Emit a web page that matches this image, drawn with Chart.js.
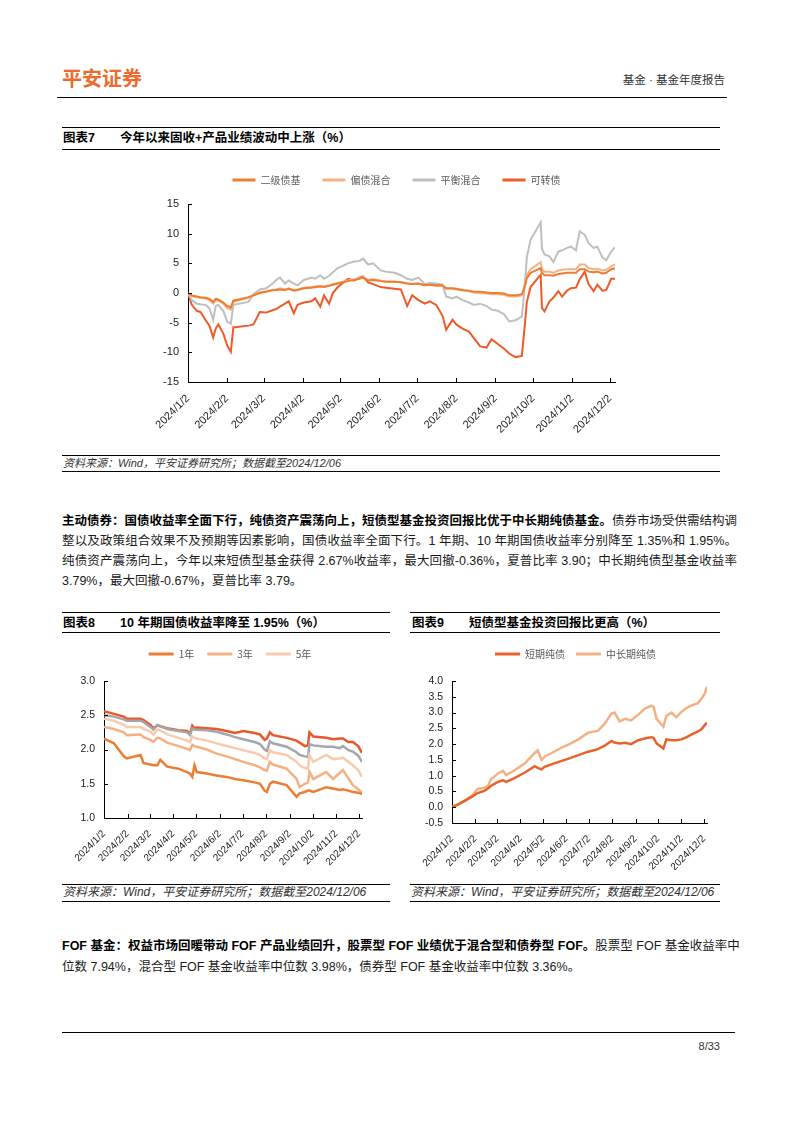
<!DOCTYPE html>
<html lang="zh-CN">
<head>
<meta charset="utf-8">
<title>基金·基金年度报告</title>
<script src="https://cdn.jsdelivr.net/npm/chart.js@4.4.1/dist/chart.umd.min.js"></script>
<style>
  html, body { margin: 0; padding: 0; background: #fff; }
  body { width: 794px; height: 1123px; position: relative; overflow: hidden;
         font-family: "Liberation Sans", Arial, "Noto Sans CJK SC", sans-serif; color: #1a1a1a; }
  .abs { position: absolute; white-space: nowrap; }
  .rule { position: absolute; height: 1px; background: #000; }
  .logo { font-family: "Noto Sans CJK SC", sans-serif; font-size: 20px; line-height: 24px; font-weight: 700; color: #EE6B2C; }
  .head { font-size: 11.5px; line-height: 14px; color: #333; }
  .ttl { font-size: 12.5px; line-height: 16px; font-weight: 700; color: #000; }
  .src { font-size: 11px; line-height: 12px; font-style: italic; color: #333; }
  .para { font-size: 12.5px; line-height: 20px; width: 675px; left: 62px; }
  .just { text-align: justify; text-align-last: justify; }
  .para b { font-weight: 700; color: #000; }
  canvas { position: absolute; }
</style>
</head>
<body>

<div class="abs logo" style="left:62px; top:66px;">平安证券</div>
<div class="abs head" style="right:69px; top:73px;">基金 · 基金年度报告</div>
<div class="rule" style="left:57px; top:97px; width:670px;"></div>

<!-- 图表7 -->
<div class="rule" style="left:62px; top:127px; width:658px;"></div>
<div class="abs ttl" style="left:63px; top:130px;">图表7</div>
<div class="abs ttl" style="left:120px; top:130px;">今年以来固收+产品业绩波动中上涨（%）</div>
<div class="rule" style="left:62px; top:149px; width:658px;"></div>
<canvas id="chart7" width="480" height="282" style="left:150px; top:153px;"></canvas>
<div class="rule" style="left:62px; top:455px; width:658px;"></div>
<div class="abs src" style="left:63px; top:457px;">资料来源：Wind，平安证券研究所；数据截至2024/12/06</div>
<div class="rule" style="left:62px; top:471px; width:658px;"></div>

<div class="abs para just" style="top:511px;"><b>主动债券：国债收益率全面下行，纯债资产震荡向上，短债型基金投资回报比优于中长期纯债基金。</b>债券市场受供需结构调</div>
<div class="abs para just" style="top:531px;">整以及政策组合效果不及预期等因素影响，国债收益率全面下行。1 年期、10 年期国债收益率分别降至 1.35%和 1.95%。</div>
<div class="abs para just" style="top:551px;">纯债资产震荡向上，今年以来短债型基金获得 2.67%收益率，最大回撤-0.36%，夏普比率 3.90；中长期纯债型基金收益率</div>
<div class="abs para" style="top:571px;">3.79%，最大回撤-0.67%，夏普比率 3.79。</div>

<!-- 图表8 -->
<div class="rule" style="left:62px; top:612px; width:328px;"></div>
<div class="abs ttl" style="left:63px; top:615px;">图表8</div>
<div class="abs ttl" style="left:120px; top:615px;">10 年期国债收益率降至 1.95%（%）</div>
<div class="rule" style="left:62px; top:632px; width:328px;"></div>
<canvas id="chart8" width="330" height="234" style="left:62px; top:636px;"></canvas>
<div class="rule" style="left:62px; top:884px; width:328px;"></div>
<div class="abs src" style="left:63px; top:886px; font-size:12px; line-height:13px;">资料来源：Wind，平安证券研究所；数据截至2024/12/06</div>
<div class="rule" style="left:62px; top:901px; width:328px;"></div>

<!-- 图表9 -->
<div class="rule" style="left:410px; top:612px; width:310px;"></div>
<div class="abs ttl" style="left:412px; top:615px;">图表9</div>
<div class="abs ttl" style="left:469px; top:615px;">短债型基金投资回报比更高（%）</div>
<div class="rule" style="left:410px; top:632px; width:310px;"></div>
<canvas id="chart9" width="330" height="232" style="left:410px; top:638px;"></canvas>
<div class="rule" style="left:410px; top:884px; width:310px;"></div>
<div class="abs src" style="left:411px; top:886px; font-size:12px; line-height:13px;">资料来源：Wind，平安证券研究所；数据截至2024/12/06</div>
<div class="rule" style="left:410px; top:901px; width:310px;"></div>

<div class="abs para just" style="top:936px;"><b>FOF 基金：权益市场回暖带动 FOF 产品业绩回升，股票型 FOF 业绩优于混合型和债券型 FOF。</b>股票型 FOF 基金收益率中</div>
<div class="abs para" style="top:957px;">位数 7.94%，混合型 FOF 基金收益率中位数 3.98%，债券型 FOF 基金收益率中位数 3.36%。</div>

<div class="rule" style="left:62px; top:1032px; width:673px;"></div>
<div class="abs head" style="right:74px; top:1039px; font-size:11px;">8/33</div>

<script>
// x axis tick labels (shared by all three charts)
const tickLabels = ['2024/1/2', '2024/2/2', '2024/3/2', '2024/4/2', '2024/5/2', '2024/6/2',
  '2024/7/2', '2024/8/2', '2024/9/2', '2024/10/2', '2024/11/2', '2024/12/2'];

// 图表7: dates and series
const dates7 = ['1/2', '1/5', '1/9', '1/12', '1/16', '1/19', '1/22', '1/24', '1/26', '1/30',
  '2/2', '2/5', '2/7', '2/19', '2/23', '2/28',
  '3/4', '3/8', '3/12', '3/15', '3/19', '3/22', '3/26', '3/29',
  '4/3', '4/9', '4/12', '4/16', '4/19', '4/23', '4/26', '4/30',
  '5/8', '5/13', '5/17', '5/20', '5/24', '5/28',
  '6/3', '6/7', '6/14', '6/19', '6/24', '6/28',
  '7/3', '7/8', '7/12', '7/17', '7/22', '7/25', '7/30',
  '8/2', '8/7', '8/12', '8/16', '8/21', '8/26', '8/30',
  '9/4', '9/9', '9/13', '9/18', '9/23', '9/24', '9/26', '9/27', '9/30',
  '10/8', '10/9', '10/11', '10/15', '10/18', '10/22', '10/25', '10/29',
  '11/1', '11/5', '11/8', '11/12', '11/15', '11/19', '11/22', '11/26', '11/29',
  '12/3', '12/6'];
const erjiZhaiji = [0, -0.4, -0.6, -0.7, -0.8, -1.0, -1.5, -1.0, -1.1, -1.6,
  -2.2, -2.4, -1.3, -0.7, -0.4, 0.0, 0.2, 0.4, 0.5, 0.6,
  0.5, 0.7, 0.4, 0.5, 0.8, 0.9, 1.0, 1.1, 1.0, 1.2,
  1.4, 1.6, 2.0, 2.2, 2.4, 2.6, 2.1, 2.2, 2.0, 1.9,
  1.9, 1.8, 1.6, 1.5, 1.6, 1.3, 1.4, 1.3, 1.3, 0.8,
  0.8, 0.7, 0.5, 0.4, 0.2, 0.2, 0.1, 0.0, 0.0, -0.1,
  -0.4, -0.4, -0.2, 0.2, 1.5, 2.5, 3.4, 4.2, 3.4, 3.0,
  3.0, 2.9, 3.2, 3.3, 3.4, 3.4, 3.4, 4.0, 4.0, 3.6,
  3.5, 3.6, 3.3, 3.4, 4.0, 4.2];
const pianzhaiHunhe = [0, -0.5, -0.7, -0.8, -0.9, -1.2, -1.8, -1.2, -1.3, -1.8,
  -2.5, -2.8, -1.5, -0.8, -0.4, 0.1, 0.3, 0.5, 0.6, 0.8,
  0.6, 0.8, 0.5, 0.6, 0.9, 1.0, 1.1, 1.2, 1.1, 1.3,
  1.5, 1.7, 2.1, 2.3, 2.5, 2.7, 2.2, 2.3, 2.1, 2.0,
  1.9, 1.8, 1.6, 1.5, 1.6, 1.3, 1.4, 1.2, 1.2, 0.7,
  0.7, 0.6, 0.4, 0.3, 0.1, 0.0, -0.1, -0.2, -0.2, -0.3,
  -0.6, -0.6, -0.4, 0.3, 2.0, 3.0, 4.0, 5.2, 4.0, 3.6,
  3.6, 3.4, 3.8, 3.9, 4.0, 4.0, 4.0, 4.8, 4.8, 4.2,
  4.0, 4.1, 3.8, 3.9, 4.5, 4.8];
const pinghengHunhe = [0, -1.2, -1.8, -1.9, -2.0, -2.6, -4.5, -2.2, -2.0, -3.0,
  -4.8, -5.2, -2.0, -1.5, -0.2, 0.6, 0.8, 1.4, 2.2, 2.6,
  1.6, 2.1, 1.6, 1.3, 2.2, 2.6, 2.4, 3.0, 2.4, 2.9,
  3.5, 4.2, 5.0, 5.3, 5.4, 5.8, 4.8, 5.0, 3.8, 3.6,
  3.4, 3.0, 2.4, 2.2, 2.6, 1.5, 1.7, 1.6, 1.4, -0.6,
  -0.9, -0.6, -1.2, -1.6, -2.0, -1.8, -2.2, -2.8, -3.0, -3.6,
  -4.8, -4.6, -4.0, -2.0, 3.0, 6.0, 9.0, 11.9, 7.5, 6.5,
  6.2, 5.2, 7.0, 7.2, 7.6, 7.8, 7.2, 10.4, 9.8, 8.4,
  7.6, 7.8, 6.0, 5.5, 7.0, 7.7];
const kezhuanzhai = [0, -2.0, -3.0, -3.2, -4.6, -5.5, -7.5, -6.0, -5.3, -6.8,
  -8.8, -9.9, -5.8, -5.5, -5.3, -3.2, -3.3, -3.0, -2.7, -2.3,
  -1.8, -1.4, -3.4, -2.0, -1.6, -1.4, -0.9, -2.3, -0.4, -1.8,
  0.0, 1.0, 2.4, 2.1, 2.6, 2.8, 1.8, 1.5, 1.0, 0.9,
  0.7, 0.6, -2.2, -0.4, -1.2, -1.8, -1.4, -2.0, -3.8, -6.2,
  -4.5, -5.3, -6.0, -6.5, -7.6, -9.0, -9.2, -7.8, -8.6, -9.4,
  -10.2, -10.8, -10.6, -8.5, -4.0, -1.5, 1.0, 3.1, -2.5, -3.1,
  -1.4, -0.8, 0.3, -0.6, 0.4, 0.8, 0.9, 2.3, 3.6, 1.5,
  0.3, 1.4, 0.4, 0.5, 2.4, 2.4];

// 图表8: treasury yields
const dates8 = ['1/2', '1/15', '1/28', '2/1', '2/19', '2/23', '3/3', '3/7', '3/12', '3/16',
  '3/25', '4/9', '4/20', '4/24', '4/27', '4/30', '5/3', '5/16', '5/29', '6/11',
  '6/22', '7/3', '7/18', '7/25', '7/31', '8/3', '8/7', '8/11', '8/29', '9/11',
  '9/15', '9/22', '9/26', '9/28', '10/3', '10/20', '10/29', '11/7', '11/11', '11/18',
  '11/24', '12/1', '12/6'];
const y1 = [2.16, 2.09, 1.90, 1.87, 1.92, 1.80, 1.78, 1.77, 1.77, 1.85,
  1.75, 1.72, 1.67, 1.65, 1.60, 1.77, 1.67, 1.65, 1.62, 1.60,
  1.57, 1.55, 1.52, 1.50, 1.40, 1.38, 1.50, 1.53, 1.48, 1.31,
  1.36, 1.38, 1.40, 1.40, 1.38, 1.45, 1.43, 1.41, 1.42, 1.40,
  1.38, 1.37, 1.35];
const y3 = [2.33, 2.30, 2.25, 2.21, 2.22, 2.18, 2.14, 2.11, 2.17, 2.16,
  2.10, 2.05, 2.01, 1.99, 2.07, 2.05, 2.04, 2.00, 1.94, 1.90,
  1.86, 1.82, 1.77, 1.74, 1.70, 1.69, 1.82, 1.78, 1.72, 1.57,
  1.45, 1.50, 1.52, 1.67, 1.57, 1.67, 1.57, 1.66, 1.70, 1.58,
  1.48, 1.42, 1.37];
const y5 = [2.45, 2.42, 2.36, 2.33, 2.33, 2.30, 2.26, 2.22, 2.29, 2.28,
  2.22, 2.17, 2.13, 2.11, 2.19, 2.17, 2.16, 2.13, 2.09, 2.05,
  2.02, 1.99, 1.95, 1.92, 1.87, 1.86, 1.99, 1.96, 1.92, 1.82,
  1.77, 1.73, 1.72, 1.92, 1.82, 1.92, 1.86, 1.87, 1.88, 1.82,
  1.77, 1.70, 1.60];
const y7 = [2.50, 2.48, 2.44, 2.42, 2.42, 2.40, 2.33, 2.29, 2.36, 2.34,
  2.30, 2.27, 2.25, 2.21, 2.31, 2.29, 2.29, 2.28, 2.26, 2.22,
  2.18, 2.15, 2.11, 2.08, 2.00, 1.98, 2.12, 2.09, 2.04, 1.96,
  1.92, 1.90, 1.89, 2.08, 2.06, 2.04, 2.04, 2.02, 2.05, 1.99,
  1.97, 1.91, 1.82];
const y10 = [2.56, 2.52, 2.48, 2.45, 2.45, 2.43, 2.36, 2.31, 2.35, 2.34,
  2.31, 2.28, 2.27, 2.23, 2.35, 2.31, 2.32, 2.31, 2.30, 2.27,
  2.24, 2.27, 2.24, 2.22, 2.14, 2.16, 2.25, 2.21, 2.17, 2.13,
  2.10, 2.05, 2.06, 2.25, 2.19, 2.17, 2.15, 2.16, 2.16, 2.11,
  2.11, 2.05, 1.95];

// 图表9: pure bond funds
const dates9 = ['1/2', '1/10', '1/19', '1/28', '2/5', '2/14', '2/19', '2/23', '2/28', '3/3',
  '3/10', '3/14', '3/25', '4/8', '4/21', '4/25', '4/30', '5/4', '5/16', '5/26',
  '6/6', '6/18', '7/1', '7/14', '7/23', '8/1', '8/5', '8/12', '8/19', '8/27',
  '9/5', '9/14', '9/23', '9/26', '9/30', '10/9', '10/13', '10/20', '10/26', '11/2',
  '11/9', '11/15', '11/24', '11/29', '12/3', '12/6'];
const shortBond = [0.00, 0.08, 0.20, 0.33, 0.45, 0.52, 0.60, 0.68, 0.75, 0.80,
  0.85, 0.80, 0.92, 1.10, 1.30, 1.25, 1.20, 1.28, 1.38, 1.46,
  1.55, 1.65, 1.76, 1.84, 1.95, 2.10, 2.05, 2.02, 2.04, 2.00,
  2.12, 2.18, 2.22, 2.20, 2.02, 1.86, 2.15, 2.12, 2.12, 2.15,
  2.22, 2.30, 2.40, 2.48, 2.60, 2.68];
const longBond = [0.00, 0.10, 0.22, 0.35, 0.58, 0.62, 0.68, 0.90, 0.98, 1.07,
  1.15, 1.02, 1.17, 1.39, 1.72, 1.80, 1.50, 1.60, 1.75, 1.88,
  2.00, 2.15, 2.36, 2.42, 2.65, 2.97, 3.00, 2.72, 2.80, 2.75,
  2.92, 3.12, 3.22, 3.18, 2.80, 2.55, 2.90, 3.00, 2.85, 3.02,
  3.15, 3.22, 3.30, 3.45, 3.60, 3.82];

// days since 2024/1/2
function dayOf(md) {
  const [m, d] = md.split('/').map(Number);
  return (Date.UTC(2024, m - 1, d) - Date.UTC(2024, 0, 2)) / 86400000;
}

Chart.defaults.font.family = "'Liberation Sans', Arial, sans-serif";
Chart.defaults.color = '#222';

// small tick marks pointing into the plot
const innerTicks = {
  id: 'innerTicks',
  afterDatasetsDraw(chart) {
    const { ctx, chartArea, scales: { x, y } } = chart;
    ctx.save();
    ctx.strokeStyle = '#000';
    ctx.lineWidth = 1;
    ctx.beginPath();
    x.ticks.forEach(t => {
      const px = Math.round(x.getPixelForValue(t.value)) + 0.5;
      ctx.moveTo(px, chartArea.bottom);
      ctx.lineTo(px, chartArea.bottom - 4);
    });
    y.ticks.forEach(t => {
      const py = Math.round(y.getPixelForValue(t.value)) + 0.5;
      ctx.moveTo(chartArea.left, py);
      ctx.lineTo(chartArea.left + 4, py);
    });
    ctx.stroke();
    ctx.restore();
  }
};

// fixes the legend block height (so the plot top lands where it should)
// and nudges the legend row sideways
function legendBox(h, dx) {
  return {
    id: 'legendBox',
    beforeInit(chart) {
      const fit = chart.legend.fit;
      chart.legend.fit = function () {
        fit.call(this);
        this.height = h;
      };
    },
    afterLayout(chart) {
      chart.legend.left += dx;
      chart.legend.right += dx;
    }
  };
}

function xScale(fontSize, height) {
  return {
    type: 'linear',
    min: 0,
    max: dayOf('12/6'),
    afterBuildTicks: s => { s.ticks = tickLabels.map(t => ({ value: dayOf(t.slice(5)) })); },
    afterFit: s => { s.height = height; },
    ticks: {
      autoSkip: false, minRotation: 45, maxRotation: 45, padding: 2,
      font: { size: fontSize }, color: '#222',
      callback: (v, i) => tickLabels[i]
    },
    grid: { display: false },
    border: { display: true, color: '#000', width: 1 }
  };
}

function yScale(min, max, step, fontSize, width, digits) {
  return {
    min: min, max: max,
    afterFit: s => { s.width = width; },
    ticks: {
      stepSize: step, padding: 9, font: { size: fontSize }, color: '#222',
      callback: v => digits ? v.toFixed(digits) : v
    },
    grid: { display: false, drawTicks: false },
    border: { display: true, color: '#000', width: 1 }
  };
}

function legendOpts(pad, boxW, filter) {
  return {
    position: 'top',
    labels: {
      boxWidth: boxW, boxHeight: 3, padding: pad,
      font: { family: "'Noto Sans CJK SC', sans-serif", size: 10 }, color: '#595959',
      filter: filter,
      generateLabels: ch => Chart.defaults.plugins.legend.labels.generateLabels(ch)
        .map(it => Object.assign(it, { fillStyle: it.strokeStyle, lineWidth: 0 }))
    }
  };
}

function line(label, xs, ys, color, width) {
  return {
    label: label,
    data: ys.map((v, i) => ({ x: dayOf(xs[i]), y: v })),
    borderColor: color,
    backgroundColor: color,
    borderWidth: width,
    pointRadius: 0,
    tension: 0,
    fill: false
  };
}

new Chart(document.getElementById('chart7'), {
  type: 'line',
  data: {
    datasets: [
      line('二级债基', dates7, erjiZhaiji, '#ED7D31', 2),
      line('偏债混合', dates7, pianzhaiHunhe, '#F4B183', 2),
      line('平衡混合', dates7, pinghengHunhe, '#BFBFBF', 2),
      line('可转债', dates7, kezhuanzhai, '#EF5A28', 2)
    ]
  },
  options: {
    responsive: false,
    animation: false,
    layout: { padding: { left: 0, right: 15, top: 0, bottom: 0 } },
    scales: {
      x: xScale(11, 53),
      y: yScale(-15, 15, 5, 11, 38, 0)
    },
    plugins: {
      legend: legendOpts(22, 23),
      tooltip: { enabled: false }
    }
  },
  plugins: [innerTicks, legendBox(51, 14)]
});

new Chart(document.getElementById('chart8'), {
  type: 'line',
  data: {
    datasets: [
      line('1年', dates8, y1, '#ED7D31', 2.5),
      line('3年', dates8, y3, '#F4B183', 2.5),
      line('5年', dates8, y5, '#F8CBAD', 2.5),
      line('7年', dates8, y7, '#A3A6AB', 2.5),
      line('10年', dates8, y10, '#E9572A', 2.5)
    ]
  },
  options: {
    responsive: false,
    animation: false,
    layout: { padding: { left: 0, right: 30, top: 0, bottom: 0 } },
    scales: {
      x: xScale(10, 52),
      y: yScale(1, 3, 0.5, 10.5, 42, 1)
    },
    plugins: {
      legend: legendOpts(13, 25, item => item.datasetIndex < 3),
      tooltip: { enabled: false }
    }
  },
  plugins: [innerTicks, legendBox(45, 18)]
});

new Chart(document.getElementById('chart9'), {
  type: 'line',
  data: {
    datasets: [
      line('短期纯债', dates9, shortBond, '#E8622A', 2.5),
      line('中长期纯债', dates9, longBond, '#F4B183', 2.5)
    ]
  },
  options: {
    responsive: false,
    animation: false,
    layout: { padding: { left: 0, right: 33, top: 0, bottom: 0 } },
    scales: {
      x: xScale(10, 47),
      y: yScale(-0.5, 4, 0.5, 10.5, 42, 1)
    },
    plugins: {
      legend: legendOpts(11, 25),
      tooltip: { enabled: false }
    }
  },
  plugins: [innerTicks, legendBox(43, 17)]
});
</script>
</body>
</html>
